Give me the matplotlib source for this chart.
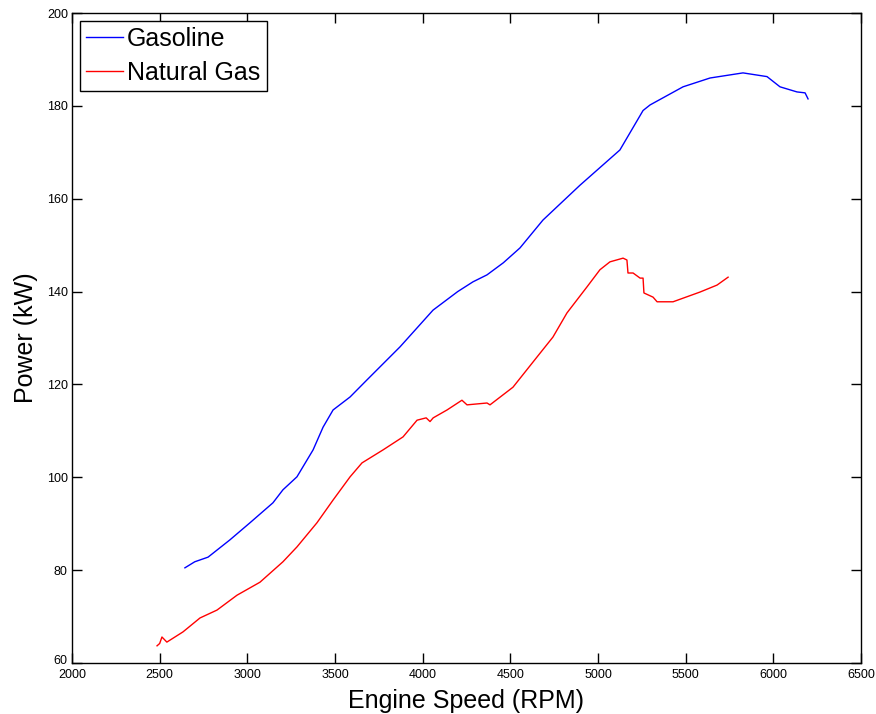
import matplotlib
matplotlib.use("Agg")
import matplotlib.pyplot as plt
import matplotlib.transforms as mtransforms

gas_rpm = [2644, 2700, 2776, 2900, 3015, 3146, 3203, 3283, 3375, 3432, 3489, 3586, 3683,
           3871, 4059, 4200, 4287, 4367, 4460, 4555, 4686, 4897, 5125, 5257, 5297, 5485,
           5639, 5827, 5964, 6038, 6135, 6181, 6198]
gas_kw = [80.5, 81.8, 82.8, 86.5, 90.2, 94.5, 97.3, 100.1, 105.9, 110.8, 114.5, 117.3, 121.0,
          128.1, 136.0, 140.0, 142.1, 143.6, 146.2, 149.4, 155.4, 162.9, 170.5, 179.0, 180.2, 184.1,
          186.0, 187.1, 186.3, 184.1, 183.0, 182.8, 181.5]

ng_rpm = [2485, 2500, 2513, 2541, 2633, 2730, 2827, 2941, 3072, 3203, 3283, 3397, 3489, 3586,
          3654, 3774, 3888, 3968, 4020, 4042, 4060, 4139, 4224, 4253, 4367, 4384, 4515, 4652,
          4743, 4823, 4937, 5011, 5068, 5143, 5165, 5171, 5200, 5240, 5257, 5262, 5314, 5337,
          5428, 5582, 5679, 5742]
ng_kw = [63.7, 64.2, 65.6, 64.5, 66.7, 69.7, 71.4, 74.6, 77.4, 81.8, 85.0, 90.2, 95.1, 100.1,
         103.1, 105.9, 108.7, 112.3, 112.8, 112.0, 112.8, 114.5, 116.6, 115.6, 116.0, 115.6,
         119.4, 125.9, 130.2, 135.4, 141.0, 144.7, 146.4, 147.2, 146.8, 144.0, 144.0, 142.9,
         142.9, 139.7, 138.8, 137.8, 137.8, 139.9, 141.4, 143.1]

x_ticks = [2000, 2500, 3000, 3500, 4000, 4500, 5000, 5500, 6000, 6500]
y_ticks = [60, 80, 100, 120, 140, 160, 180, 200]

plt.rcParams['font.family'] = ['Liberation Sans', 'DejaVu Sans']

fig = plt.figure(figsize=(8.76, 7.14), dpi=100)
ax = fig.add_axes([72/876, 51/714, 789/876, 650/714])

ax.plot(gas_rpm, gas_kw, color=(0, 0, 1), lw=1.0, label='Gasoline')
ax.plot(ng_rpm, ng_kw, color=(1, 0, 0), lw=1.0, label='Natural Gas')

ax.set_xlim(2000, 6500)
ax.set_ylim(60, 200)
ax.set_xticks(x_ticks)
ax.set_yticks(y_ticks)
ax.tick_params(direction='in', length=7, width=1, top=True, right=True,
               labelsize=9, pad=3)
ax.tick_params(axis='x', pad=4)
for s in ax.spines.values():
    s.set_linewidth(1.0)
    s.set_color('black')

# nudge the bottom y label up slightly so it does not collide with "2000"
fig.canvas.draw()
lbl = ax.get_yticklabels()[0]
lbl.set_transform(lbl.get_transform() +
                  mtransforms.ScaledTranslation(0, 3/100, fig.dpi_scale_trans))

ax.set_xlabel('Engine Speed (RPM)', fontsize=18, labelpad=6)
ax.set_ylabel('Power (kW)', fontsize=18, labelpad=6)

leg = ax.legend(loc='upper left', fontsize=18, frameon=True, fancybox=False,
                edgecolor='black', framealpha=1, borderpad=0.25, handlelength=1.5,
                handletextpad=0.15, labelspacing=0.4, borderaxespad=0.3)
leg.get_frame().set_linewidth(1.0)

fig.savefig('out.png', dpi=100)
